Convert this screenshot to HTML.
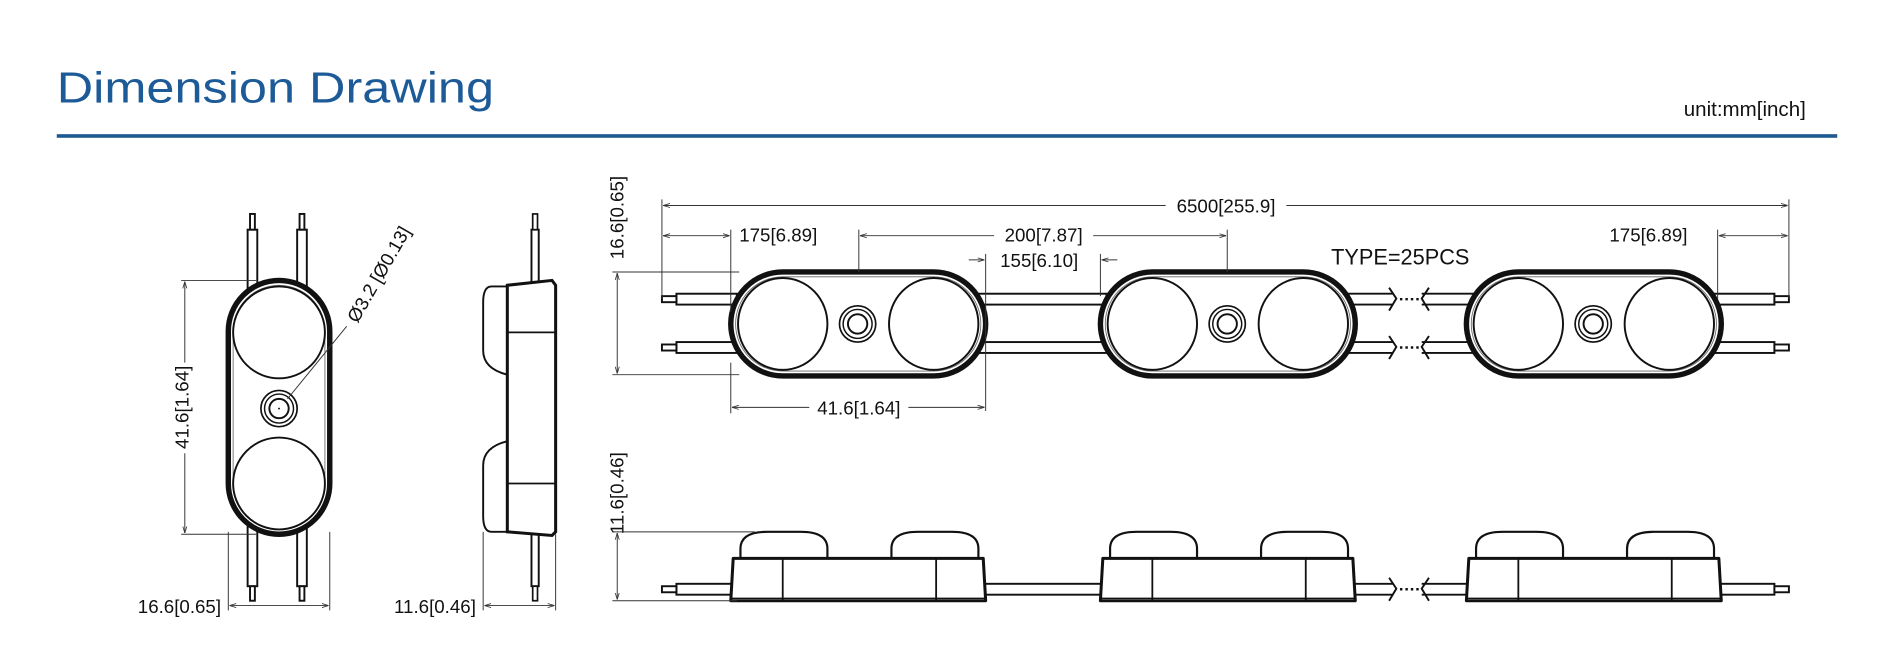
<!DOCTYPE html>
<html><head><meta charset="utf-8"><style>
html,body{margin:0;padding:0;background:#fff;width:1894px;height:666px;overflow:hidden}
svg{display:block}
text{font-family:"Liberation Sans",sans-serif;fill:#111}
</style></head><body>
<svg width="1894" height="666" viewBox="0 0 1568 551" preserveAspectRatio="none" xmlns="http://www.w3.org/2000/svg">
<defs>
<marker id="a" viewBox="0 0 10 10" refX="10" refY="5" markerWidth="7" markerHeight="7" orient="auto-start-reverse"><path d="M0,2 L10,5 L0,8" fill="none" stroke="#333" stroke-width="1.2"/></marker>
<g id="top">
  <rect x="0" y="0" width="211" height="86" rx="43" fill="#fff" stroke="#111" stroke-width="4.5"/>
  <rect x="4" y="4" width="203" height="78" rx="39" fill="none" stroke="#666" stroke-width="0.7"/>
  <ellipse cx="43" cy="43" rx="37" ry="38" fill="none" stroke="#111" stroke-width="1.6"/>
  <ellipse cx="168" cy="43" rx="37" ry="38" fill="none" stroke="#111" stroke-width="1.6"/>
  <circle cx="105" cy="43" r="15" fill="none" stroke="#111" stroke-width="1.4"/>
  <circle cx="105" cy="43" r="12" fill="none" stroke="#111" stroke-width="1.2"/>
  <circle cx="105" cy="43" r="8" fill="none" stroke="#111" stroke-width="1.6"/>
</g>
<g id="side">
  <path d="M8,0 V-8 Q8,-22 30,-22 H58 Q80,-22 80,-8 V0" fill="#fff" stroke="#111" stroke-width="1.8"/>
  <path d="M133,0 V-8 Q133,-22 155,-22 H183 Q205,-22 205,-8 V0" fill="#fff" stroke="#111" stroke-width="1.8"/>
  <path d="M2,0 H209 L211,35 H0 Z" fill="#fff" stroke="#111" stroke-width="2.5" stroke-linejoin="round"/>
  <line x1="0" y1="33" x2="211" y2="33" stroke="#111" stroke-width="1.2"/>
  <line x1="43" y1="0" x2="43" y2="35" stroke="#111" stroke-width="1.5"/>
  <line x1="170" y1="0" x2="170" y2="35" stroke="#111" stroke-width="1.5"/>
</g>
</defs>

<!-- header -->
<text x="47" y="85" font-size="36" textLength="362" lengthAdjust="spacingAndGlyphs" style="fill:#1d5a98">Dimension Drawing</text>
<text x="1495" y="96" font-size="17" text-anchor="end">unit:mm[inch]</text>
<rect x="47" y="111" width="1474" height="3" fill="#1d5a8f"/>

<g stroke="#111" fill="#fff">
<!-- FRONT VIEW -->
<g stroke-width="1.6">
  <rect x="205" y="190" width="8" height="50"/><rect x="246" y="190" width="8" height="50"/>
  <rect x="207" y="177" width="4" height="13"/><rect x="248" y="177" width="4" height="13"/>
  <rect x="205" y="435" width="8" height="50"/><rect x="246" y="435" width="8" height="50"/>
  <rect x="207" y="485" width="4" height="12"/><rect x="248" y="485" width="4" height="12"/>
</g>
<rect x="189" y="232" width="84" height="210" rx="42" stroke-width="4.5"/>
<rect x="193" y="236" width="76" height="202" rx="38" fill="none" stroke="#666" stroke-width="0.7"/>
<circle cx="231" cy="275" r="38" fill="none" stroke-width="1.6"/>
<circle cx="231" cy="400" r="38" fill="none" stroke-width="1.6"/>
<circle cx="231" cy="338" r="15" fill="none" stroke-width="1.4"/>
<circle cx="231" cy="338" r="12" fill="none" stroke-width="1.2"/>
<circle cx="231" cy="338" r="8" fill="none" stroke-width="1.6"/>
<circle cx="231" cy="338" r="0.8" fill="#111" stroke="none"/>

<!-- SIDE VIEW -->
<rect x="440" y="190" width="6" height="45" stroke-width="1.6"/>
<rect x="441" y="177" width="4" height="13" stroke-width="1.4"/>
<rect x="440" y="440" width="6" height="45" stroke-width="1.6"/>
<rect x="441" y="485" width="4" height="12" stroke-width="1.4"/>
<path d="M420,237 H407 Q400,237 400,250 V290 Q400,305 420,310" stroke-width="1.6"/>
<path d="M420,365 Q400,370 400,385 V427 Q400,440 407,440 H420" stroke-width="1.6"/>
<path d="M420,236 L457,232 L460,236 V440 L457,443 L420,440 Z" stroke-width="2.5"/>
<line x1="420" y1="275" x2="460" y2="275" stroke-width="1.5"/>
<line x1="420" y1="400" x2="460" y2="400" stroke-width="1.5"/>

<!-- TOP STRIP wires -->
<g stroke-width="1.6">
  <rect x="560" y="243" width="50" height="9"/><rect x="548" y="245" width="12" height="5"/>
  <rect x="560" y="283" width="50" height="9"/><rect x="548" y="285" width="12" height="5"/>
  <rect x="810" y="243" width="106" height="9"/><rect x="810" y="283" width="106" height="9"/>
  <path d="M1115,243 H1153 M1115,252 H1153 M1115,283 H1153 M1115,292 H1153"/>
  <path d="M1177,243 H1220 M1177,252 H1220 M1177,283 H1220 M1177,292 H1220"/>
  <path d="M1150,238 L1156,247 L1150,257 M1183,238 L1177,247 L1183,257 M1150,278 L1156,287 L1150,297 M1183,278 L1177,287 L1183,297" fill="none"/>
  <path d="M1159,247.5 H1176 M1159,287.5 H1176" stroke-dasharray="2 2.5" stroke-width="2"/>
  <rect x="1417" y="243" width="52" height="9"/><rect x="1469" y="245" width="12" height="5"/>
  <rect x="1417" y="283" width="52" height="9"/><rect x="1469" y="285" width="12" height="5"/>
</g>
<use href="#top" x="605" y="225"/>
<use href="#top" x="911" y="225"/>
<use href="#top" x="1214" y="225"/>

<!-- SIDE STRIP -->
<g stroke-width="1.6">
  <rect x="560" y="483" width="50" height="9"/><rect x="548" y="485" width="12" height="5"/>
  <rect x="810" y="483" width="106" height="9"/>
  <path d="M1115,483 H1153 M1115,492 H1153 M1177,483 H1220 M1177,492 H1220"/>
  <path d="M1150,478 L1156,487 L1150,497 M1183,478 L1177,487 L1183,497" fill="none"/>
  <path d="M1159,487.5 H1176" stroke-dasharray="2 2.5" stroke-width="2"/>
  <rect x="1417" y="483" width="52" height="9"/><rect x="1469" y="485" width="12" height="5"/>
</g>
<use href="#side" x="605" y="462"/>
<use href="#side" x="911" y="462"/>
<use href="#side" x="1214" y="462"/>
</g>

<!-- DIMENSIONS -->
<g stroke="#333" stroke-width="0.8" fill="none">
  <path d="M150,232 H212 M150,442 H212"/>
  <line x1="153" y1="233" x2="153" y2="441" marker-start="url(#a)" marker-end="url(#a)"/>
  <path d="M189,440 V505 M273,440 V505"/>
  <line x1="190" y1="501" x2="272" y2="501" marker-start="url(#a)" marker-end="url(#a)"/>
  <line x1="238" y1="330" x2="287" y2="270"/>
  <path d="M400,440 V505 M460,442 V505"/>
  <line x1="401" y1="501" x2="459" y2="501" marker-start="url(#a)" marker-end="url(#a)"/>
  <path d="M548,165 V247 M1481,165 V247 M605,190 V258 M711,190 V225 M1016,190 V225 M1422,190 V247 M816,210 V340 M911,210 V245 M605,300 V342"/>
  <line x1="549" y1="170" x2="1480" y2="170" marker-start="url(#a)" marker-end="url(#a)"/>
  <line x1="549" y1="195" x2="604" y2="195" marker-start="url(#a)" marker-end="url(#a)"/>
  <line x1="712" y1="195" x2="1015" y2="195" marker-start="url(#a)" marker-end="url(#a)"/>
  <line x1="1423" y1="195" x2="1480" y2="195" marker-start="url(#a)" marker-end="url(#a)"/>
  <line x1="802" y1="215" x2="815" y2="215" marker-end="url(#a)"/>
  <line x1="925" y1="215" x2="912" y2="215" marker-end="url(#a)"/>
  <line x1="606" y1="337" x2="815" y2="337" marker-start="url(#a)" marker-end="url(#a)"/>
  <path d="M507,225 H612 M507,310 H612"/>
  <line x1="511" y1="226" x2="511" y2="309" marker-start="url(#a)" marker-end="url(#a)"/>
  <path d="M507,440 H625 M507,497 H610"/>
  <line x1="511" y1="441" x2="511" y2="496" marker-start="url(#a)" marker-end="url(#a)"/>
</g>
<rect x="965" y="160" width="100" height="20" fill="#fff"/>
<rect x="610" y="185" width="80" height="20" fill="#fff"/>
<rect x="823" y="185" width="82" height="20" fill="#fff"/>
<rect x="670" y="327" width="82" height="20" fill="#fff"/>
<rect x="140" y="300" width="20" height="75" fill="#fff"/>
<rect x="500" y="140" width="20" height="78" fill="#fff"/>
<rect x="500" y="378" width="20" height="58" fill="#fff"/>

<g font-size="15.5">
  <text x="1015" y="176" text-anchor="middle">6500[255.9]</text>
  <text x="612" y="200">175[6.89]</text>
  <text x="864" y="200" text-anchor="middle">200[7.87]</text>
  <text x="828" y="221">155[6.10]</text>
  <text x="1397" y="200" text-anchor="end">175[6.89]</text>
  <text x="711" y="343" text-anchor="middle">41.6[1.64]</text>
  <text x="1102" y="219" font-size="18">TYPE=25PCS</text>
  <text x="183" y="507" text-anchor="end">16.6[0.65]</text>
  <text x="394" y="507" text-anchor="end">11.6[0.46]</text>
  <text transform="translate(156,337) rotate(-90)" text-anchor="middle">41.6[1.64]</text>
  <text transform="translate(516,180) rotate(-90)" text-anchor="middle">16.6[0.65]</text>
  <text transform="translate(516,408) rotate(-90)" text-anchor="middle">11.6[0.46]</text>
  <text transform="translate(296,268) rotate(-60)">Ø3.2 [Ø0.13]</text>
</g>
</svg>
</body></html>
